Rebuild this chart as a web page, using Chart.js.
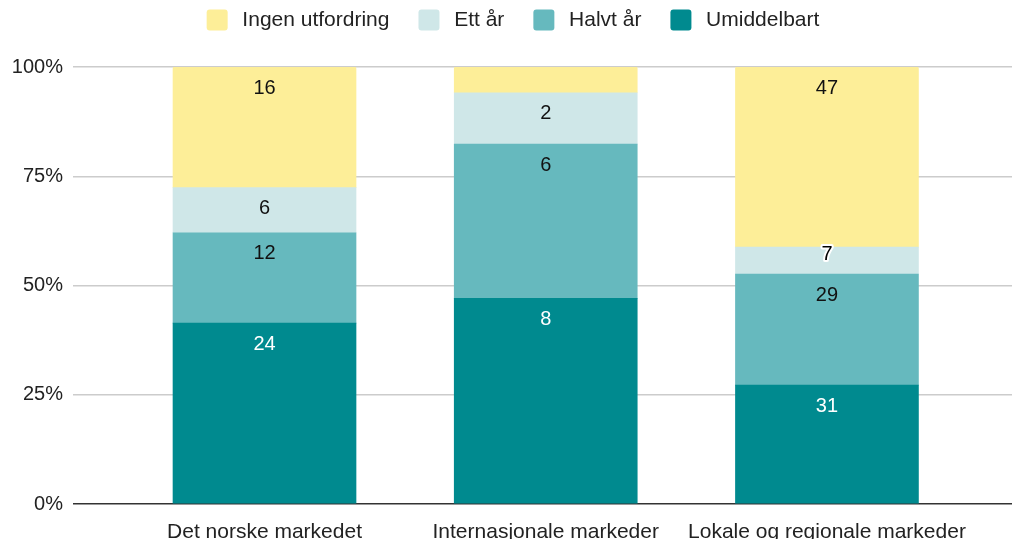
<!DOCTYPE html>
<html>
<head>
<meta charset="utf-8">
<script src="https://cdn.jsdelivr.net/npm/chart.js@4/dist/chart.umd.min.js"></script>
<style>
  body { margin: 0; background: #fff; }
  #wrap { width: 1014px; height: 539px; }
</style>
</head>
<body>
<div id="wrap"><canvas id="myChart" width="1014" height="539"></canvas></div>
<script>
const categories = ['Det norske markedet', 'Internasjonale markeder', 'Lokale og regionale markeder'];
const umiddelbart = [24, 8, 31];
const halvtAar = [12, 6, 29];
const ettAar = [6, 2, 7];
const ingenUtfordring = [16, 1, 47];
const yTicks = [0, 25, 50, 75, 100];

const totals = categories.map((c, i) => umiddelbart[i] + halvtAar[i] + ettAar[i] + ingenUtfordring[i]);

function toPoints(counts) {
    return counts.map((v, i) => ({ x: i, y: v / totals[i] * 100, count: v }));
}

const FONT = 'Liberation Sans, Arial, sans-serif';

// count labels near the top of each segment
const countLabels = {
    id: 'countLabels',
    afterDatasetsDraw(chart) {
        const ctx = chart.ctx;
        ctx.save();
        ctx.font = '20px ' + FONT;
        ctx.textAlign = 'center';
        ctx.textBaseline = 'middle';
        chart.data.datasets.forEach((ds, di) => {
            const meta = chart.getDatasetMeta(di);
            meta.data.forEach((bar, i) => {
                const count = ds.data[i].count;
                if (count < 2) return;
                const h = Math.abs(bar.base - bar.y);
                if (h >= 40) {
                    ctx.fillStyle = ds.labelColor;
                    ctx.fillText(String(count), bar.x, bar.y + 21);
                } else {
                    ctx.lineWidth = 4;
                    ctx.lineJoin = 'round';
                    ctx.strokeStyle = '#ffffff';
                    ctx.strokeText(String(count), bar.x, bar.y + 7);
                    ctx.fillStyle = '#000000';
                    ctx.fillText(String(count), bar.x, bar.y + 7);
                }
            });
        });
        ctx.restore();
    }
};

// legend sits higher and a little right of where chart.js puts it
const legendShift = {
    id: 'legendShift',
    afterLayout(chart) {
        const lg = chart.legend;
        if (!lg) return;
        lg.left += 7;
        lg.right += 7;
        lg.top -= 26.5;
        lg.bottom -= 26.5;
    }
};

const ctx = document.getElementById('myChart').getContext('2d');

new Chart(ctx, {
    type: 'bar',
    data: {
        datasets: [
            {
                label: 'Umiddelbart',
                data: toPoints(umiddelbart),
                backgroundColor: '#008a8f',
                labelColor: '#ffffff'
            },
            {
                label: 'Halvt år',
                data: toPoints(halvtAar),
                backgroundColor: '#66b9be',
                labelColor: '#111111'
            },
            {
                label: 'Ett år',
                data: toPoints(ettAar),
                backgroundColor: '#cfe7e8',
                labelColor: '#111111'
            },
            {
                label: 'Ingen utfordring',
                data: toPoints(ingenUtfordring),
                backgroundColor: '#fdee98',
                labelColor: '#111111',
                borderRadius: { topLeft: 2, topRight: 2, bottomLeft: 0, bottomRight: 0 },
                borderSkipped: false
            }
        ]
    },
    options: {
        responsive: false,
        animation: false,
        devicePixelRatio: 1,
        barThickness: 183,
        layout: { padding: { top: 7, right: 2, left: 0, bottom: 0 } },
        plugins: {
            tooltip: { enabled: false },
            legend: {
                position: 'top',
                reverse: true,
                labels: {
                    font: { family: FONT, size: 21 },
                    color: '#222222',
                    boxWidth: 21,
                    boxHeight: 21,
                    useBorderRadius: true,
                    borderRadius: 3,
                    padding: 29,
                    generateLabels(chart) {
                        const items = Chart.defaults.plugins.legend.labels.generateLabels(chart);
                        // a thin space gives the wider gap between box and text
                        items.forEach(it => { it.text = '\u2009' + it.text; });
                        return items;
                    }
                }
            }
        },
        scales: {
            x: {
                type: 'linear',
                stacked: true,
                offset: false,
                min: -0.681,
                max: 2.658,
                grid: { display: false, offset: false },
                border: { display: false },
                afterBuildTicks(scale) {
                    scale.ticks = categories.map((c, i) => ({ value: i }));
                },
                afterFit(scale) { scale.height = 35; },
                ticks: {
                    font: { family: FONT, size: 21 },
                    color: '#222222',
                    padding: 8,
                    maxRotation: 0,
                    autoSkip: false,
                    callback: v => categories[v]
                }
            },
            y: {
                stacked: true,
                min: 0,
                max: 100,
                afterBuildTicks(scale) {
                    scale.ticks = yTicks.map(v => ({ value: v }));
                },
                afterFit(scale) { scale.width = 73; },
                border: { display: false },
                grid: {
                    drawTicks: false,
                    color: c => c.tick && c.tick.value === 0 ? '#333333' : '#cccccc',
                    lineWidth: 1.5
                },
                ticks: {
                    font: { family: FONT, size: 20 },
                    color: '#222222',
                    padding: 10,
                    callback: v => v + '%'
                }
            }
        }
    },
    plugins: [countLabels, legendShift]
});
</script>
</body>
</html>
